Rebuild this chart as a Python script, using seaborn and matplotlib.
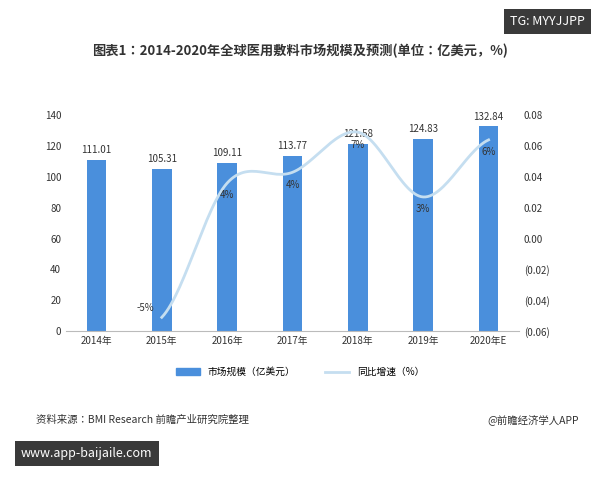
import numpy as np
import pandas as pd
import matplotlib
matplotlib.use("Agg")
import matplotlib.pyplot as plt
import seaborn as sns

plt.rcParams["font.family"] = ["Noto Sans CJK JP", "Noto Sans CJK SC", "DejaVu Sans"]

years = ["2014年", "2015年", "2016年", "2017年", "2018年", "2019年", "2020年E"]
market = [111.01, 105.31, 109.11, 113.77, 121.58, 124.83, 132.84]
growth = [np.nan, -0.051, 0.036, 0.043, 0.069, 0.027, 0.064]
growth_labels = ["", "-5%", "4%", "4%", "7%", "3%", "6%"]

df = pd.DataFrame({"year": years, "market": market})

fig = plt.figure(figsize=(6, 4.8), dpi=100)
ax = fig.add_axes([0.11, 0.31, 0.755, 0.45])
sns.barplot(data=df, x="year", y="market", color="#4a8fdc", width=0.3, ax=ax, saturation=1)
ax.set_ylim(0, 140)
ax.set_yticks(range(0, 141, 20))
ax.set_xlabel(""); ax.set_ylabel("")
for i, v in enumerate(market):
    ax.text(i, v + 3, f"{v:.2f}", ha="center", va="bottom", fontsize=7, color="#333")
for s in ["top", "right", "left"]:
    ax.spines[s].set_visible(False)
ax.spines["bottom"].set_color("#bbbbbb")
ax.tick_params(axis="both", length=0, labelsize=7, colors="#333")

ax2 = ax.twinx()
ax2.set_ylim(-0.06, 0.08)
ticks = np.arange(-0.06, 0.081, 0.02)
ax2.set_yticks(ticks)
ax2.set_yticklabels([f"({abs(t):.2f})" if t < -1e-9 else f"{abs(t):.2f}" for t in ticks])
ax2.tick_params(length=0, labelsize=7, colors="#333")
for s in ax2.spines.values():
    s.set_visible(False)

xs = np.arange(1, 7, dtype=float)
ys = np.array(growth[1:])
px, py = [], []
for k in range(len(xs) - 1):
    p0 = ys[max(k - 1, 0)]; p1 = ys[k]; p2 = ys[k + 1]; p3 = ys[min(k + 2, len(ys) - 1)]
    m1 = (p2 - p0) / 2; m2 = (p3 - p1) / 2
    t = np.linspace(0, 1, 30)
    h00 = 2*t**3 - 3*t**2 + 1; h10 = t**3 - 2*t**2 + t
    h01 = -2*t**3 + 3*t**2; h11 = t**3 - t**2
    px.extend(xs[k] + t); py.extend(h00*p1 + h10*m1 + h01*p2 + h11*m2)
ax2.plot(px, py, color="#c5def0", lw=2)
for i, (g, lab) in enumerate(zip(growth, growth_labels)):
    if not lab:
        continue
    if i == 1:
        ax2.text(i - 0.12, g + 0.006, lab, ha="right", va="center", fontsize=7, color="#333")
    else:
        ax2.text(i, g - 0.008, lab, ha="center", va="center", fontsize=7, color="#333")

fig.text(0.5, 0.885, "图表1：2014-2020年全球医用敷料市场规模及预测(单位：亿美元，%)",
         ha="center", fontsize=9.5, fontweight="bold", color="#333")

from matplotlib.patches import Patch
from matplotlib.lines import Line2D
fig.legend(handles=[Patch(color="#4a8fdc", label="市场规模（亿美元）"),
                    Line2D([], [], color="#c5def0", lw=2, label="同比增速（%）")],
           loc="center", bbox_to_anchor=(0.5, 0.225), ncol=2, frameon=False, fontsize=7,
           handlelength=2.5, columnspacing=3)

fig.text(0.06, 0.118, "资料来源：BMI Research 前瞻产业研究院整理", fontsize=7.5, color="#333")
fig.text(0.965, 0.118, "@前瞻经济学人APP", fontsize=7.5, color="#333", ha="right")
fig.text(0.975, 0.955, "TG: MYYJJPP", fontsize=9, color="white", ha="right", va="center",
         bbox=dict(boxstyle="square,pad=0.5", fc="#3a3a3a", ec="none"))
fig.text(0.035, 0.055, "www.app-baijaile.com", fontsize=9, color="white", va="center",
         bbox=dict(boxstyle="square,pad=0.5", fc="#3a3a3a", ec="none"))

fig.savefig("out.png", dpi=100)
